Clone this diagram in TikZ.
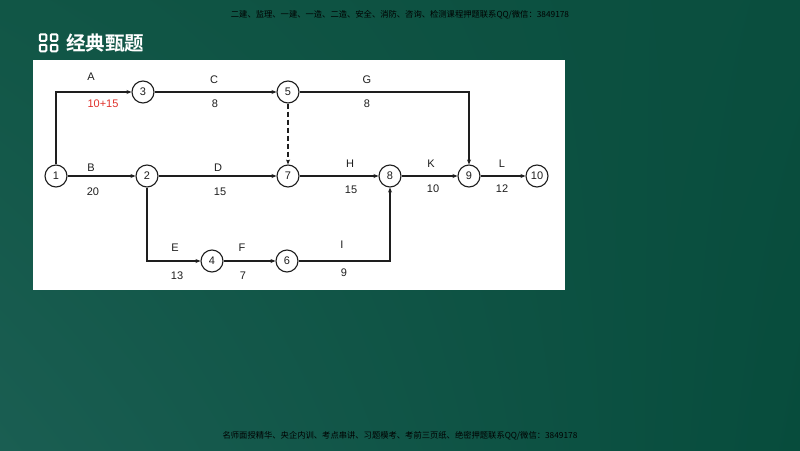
\documentclass[tikz,border=0pt]{standalone}
\usepackage{fontspec}
\setmainfont{Liberation Sans}
\newfontfamily\cjk{Noto Sans CJK SC}
\newfontfamily\cjkb{Noto Sans CJK SC Bold}
\usetikzlibrary{arrows.meta,shadings}
\definecolor{bgLL}{HTML}{1A5E52}
\definecolor{bgUL}{HTML}{115646}
\definecolor{bgUR}{HTML}{0A4E3E}
\definecolor{bgLR}{HTML}{074C3C}
\definecolor{ink}{HTML}{1E1E1E}
\definecolor{redt}{HTML}{E0302A}
\begin{document}
\begin{tikzpicture}[x=1pt,y=-1pt,
  ev/.style={circle,draw=ink,line width=1.1pt,fill=white,minimum size=22pt,inner sep=0pt,font=\fontsize{11}{11}\selectfont,text=ink},
  act/.style={draw=ink,line width=1.4pt,-{Stealth[length=5pt,width=4pt]}},
  lbl/.style={font=\fontsize{11}{11}\selectfont,text=ink,inner sep=0pt},
  hdr/.style={font=\cjk\fontsize{8.3}{8.3}\selectfont,text=black,inner sep=0pt}]
\useasboundingbox (0,0) rectangle (800,450);
\shade[upper left=bgUL,upper right=bgUR,lower left=bgLL,lower right=bgLR] (0,0) rectangle (800,450);
% header / footer
\node[hdr] (hd) at (400,15) {二建、监理、一建、一造、二造、安全、消防、咨询、检测课程押题联系QQ/微信：3849178};
\node[hdr] (ft) at (400,436) {名师面授精华、央企内训、考点串讲、习题模考、考前三页纸、绝密押题联系QQ/微信：3849178};
% title icon
\foreach \xx/\yy in {39.75/34.25,50.75/34.25,39.75/44.75,50.75/44.75}
  \draw[white,line width=2pt,rounded corners=1pt] (\xx,\yy) rectangle ++(6.5,6.5);
\node[font=\cjkb\fontsize{19.5}{19.5}\selectfont,text=white,anchor=west,inner sep=0pt] (title) at (66,43) {经典甄题};
% white panel
\fill[white] (33,60) rectangle (565,290);
% events
\node[ev] (n1) at (56,176) {1};
\node[ev] (n2) at (147,176) {2};
\node[ev] (n3) at (143,92) {3};
\node[ev] (n5) at (288,92) {5};
\node[ev] (n7) at (288,176) {7};
\node[ev] (n8) at (390,176) {8};
\node[ev] (n9) at (469,176) {9};
\node[ev] (n10) at (537,176) {10};
\node[ev] (n4) at (212,261) {4};
\node[ev] (n6) at (287,261) {6};
% activities
\draw[act] (n1) |- (n3);
\draw[act] (n3) -- (n5);
\draw[act] (n5) -| (n9);
\draw[act,dashed,dash pattern=on 5pt off 3pt] (n5) -- (n7);
\draw[act] (n1) -- (n2);
\draw[act] (n2) -- (n7);
\draw[act] (n7) -- (n8);
\draw[act] (n8) -- (n9);
\draw[act] (n9) -- (n10);
\draw[act] (n2) |- (n4);
\draw[act] (n4) -- (n6);
\draw[act] (n6) -| (n8);
% labels
\node[lbl] (lA) at (91,77) {A};
\node[lbl,text=redt] (dA) at (103,104) {10+15};
\node[lbl] (lC) at (214,80) {C};
\node[lbl] (dC) at (215,104) {8};
\node[lbl] (lG) at (367,80) {G};
\node[lbl] (dG) at (367,104) {8};
\node[lbl] (lB) at (91,168) {B};
\node[lbl] (dB) at (93,192) {20};
\node[lbl] (lD) at (218,168) {D};
\node[lbl] (dD) at (220,192) {15};
\node[lbl] (lH) at (350,164) {H};
\node[lbl] (dH) at (351,190) {15};
\node[lbl] (lK) at (431,164) {K};
\node[lbl] (dK) at (433,189) {10};
\node[lbl] (lL) at (502,164) {L};
\node[lbl] (dL) at (502,189) {12};
\node[lbl] (lE) at (175,248) {E};
\node[lbl] (dE) at (177,276) {13};
\node[lbl] (lF) at (242,248) {F};
\node[lbl] (dF) at (243,276) {7};
\node[lbl] (lI) at (342,245) {I};
\node[lbl] (dI) at (344,273) {9};
\end{tikzpicture}
\end{document}
